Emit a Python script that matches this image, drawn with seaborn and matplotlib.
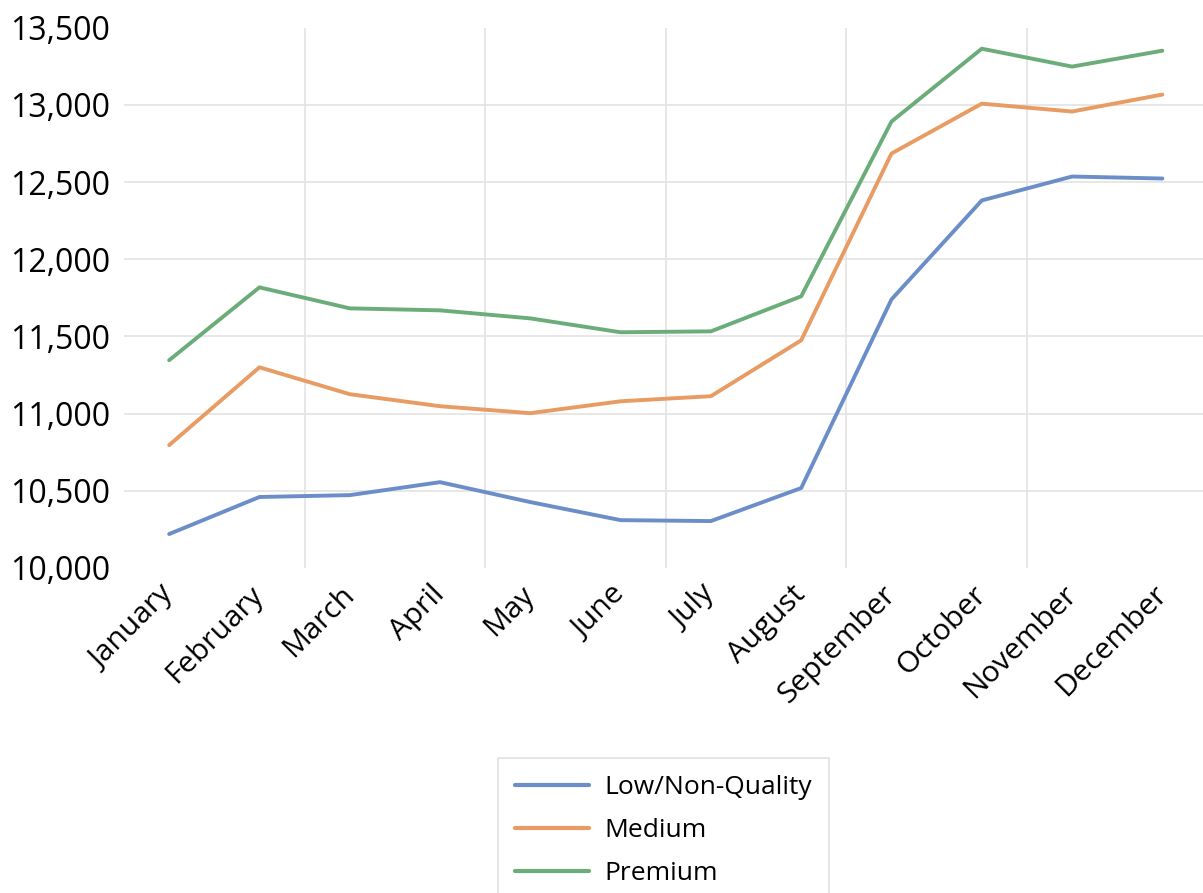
import matplotlib
matplotlib.use("Agg")
import matplotlib.pyplot as plt
import seaborn as sns
import pandas as pd
from matplotlib.ticker import FuncFormatter, FixedLocator

months = ["January", "February", "March", "April", "May", "June", "July",
          "August", "September", "October", "November", "December"]
low = [10220, 10460, 10472, 10556, 10427, 10310, 10304, 10518, 11740, 12381, 12536, 12523]
medium = [10796, 11300, 11126, 11048, 11003, 11080, 11113, 11475, 12685, 13008, 12957, 13067]
premium = [11346, 11818, 11682, 11669, 11617, 11527, 11533, 11760, 12892, 13364, 13248, 13351]
series_names = ["Low/Non-Quality", "Medium", "Premium"]
colors = ["#6C8EC8", "#E89B62", "#6BAD78"]

df = pd.concat([
    pd.DataFrame({"Month": months, "Value": vals, "Quality": name})
    for name, vals in zip(series_names, [low, medium, premium])
], ignore_index=True)
df["pos"] = df["Month"].map({m: i for i, m in enumerate(months)})

sns.set_style("white")
plt.rcParams["font.family"] = ["Open Sans", "DejaVu Sans"]
plt.rcParams["text.color"] = "black"
plt.rcParams["xtick.color"] = "black"
plt.rcParams["ytick.color"] = "black"

fig = plt.figure(figsize=(12.03, 8.93), dpi=100)
ax = fig.add_axes([124 / 1203, 1 - 568 / 893, (1203 - 124) / 1203, (568 - 27.7) / 893])

sns.lineplot(data=df, x="pos", y="Value", hue="Quality", hue_order=series_names,
             palette=colors, linewidth=2.8, sort=False, ax=ax)

ax.set_xlim(-0.5, 11.45)
ax.set_ylim(10000, 13500)
ax.set_xticks(range(len(months)))
ax.set_xticklabels(months, rotation=45, ha="right", va="center",
                   rotation_mode="anchor", fontsize=21.5, color="black")
ax.set_yticks(range(10000, 13501, 500))
ax.yaxis.set_major_formatter(FuncFormatter(lambda v, p: f"{int(v):,}"))
ax.tick_params(axis="y", labelsize=23, length=0, pad=10, labelcolor="black")
ax.tick_params(axis="x", length=0, pad=16)
ax.set_xlabel("")
ax.set_ylabel("")

# Horizontal gridlines inside the plot, vertical ones between every second month pair
for v in range(10500, 13001, 500):
    ax.axhline(v, color="#E3E3E3", linewidth=1.2, zorder=0)
ax.xaxis.set_minor_locator(FixedLocator([1.5, 3.5, 5.5, 7.5, 9.5]))
ax.grid(which="minor", axis="x", color="#E3E3E3", linewidth=1.2, zorder=0)
ax.tick_params(axis="x", which="minor", length=0)
for s in ax.spines.values():
    s.set_visible(False)

handles, labels = ax.get_legend_handles_labels()
ax.legend_.remove()
leg = fig.legend(handles, labels, loc="upper center",
                 bbox_to_anchor=(663.5 / 1203, 1 - 758 / 893),
                 fontsize=19, frameon=True, fancybox=False, edgecolor="#D9D9D9",
                 handlelength=2.8, handletextpad=0.6, labelspacing=0.68,
                 borderpad=0.65, borderaxespad=0)
leg.get_frame().set_linewidth(1.2)
for t in leg.get_texts():
    t.set_color("black")
for line in leg.get_lines():
    line.set_linewidth(3)

fig.savefig("out.png", dpi=100)
